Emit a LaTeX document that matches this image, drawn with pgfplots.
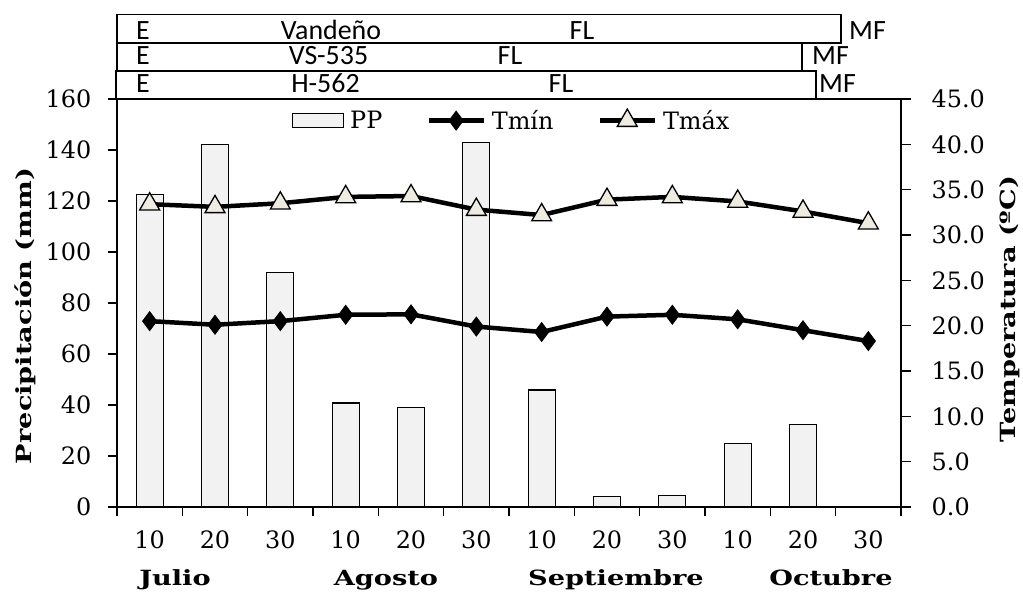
\documentclass[border=0pt]{standalone}
\usepackage{fontspec}
\setmainfont{DejaVu Serif}
\newfontfamily\calibrifont{Carlito}
\usepackage{graphicx}
\usepackage{pgfplots}
\pgfplotsset{compat=1.18}
\definecolor{barfill}{RGB}{242,242,242}
\definecolor{trifill}{RGB}{238,236,225}
\newcommand{\tickfont}{\fontsize{24}{28}\selectfont}
\newcommand{\labfont}{\fontsize{21}{25}\selectfont\bfseries}
\newcommand{\boxfont}{\calibrifont\fontsize{28}{32}\selectfont}
\pgfplotsset{
  /pgf/number format/assume math mode=true,
  mylineleg/.style={legend image code/.code={\draw[mark repeat=2, mark phase=2, ##1] plot coordinates {(0bp,0bp) (27.5bp,0bp) (55bp,0bp)};}},
  mybarleg/.style={legend image code/.code={\draw[fill=barfill, draw=black, line width=1.2bp] (0bp,-7bp) rectangle (51bp,7bp);}},
}

\begin{document}
\begin{tikzpicture}
\begin{axis}[
  scale only axis, width=784bp, height=408bp,
  xmin=-0.5, xmax=11.5, ymin=0, ymax=160,
  axis line style={line width=1.3bp},
  every tick/.style={black, line width=1.3bp},
  tick align=outside, major tick length=9.5bp,
  xtick={-0.5,0.5,...,11.5}, xticklabels={},
  extra x ticks={0,1,...,11},
  extra x tick labels={10,20,30,10,20,30,10,20,30,10,20,30},
  extra x tick style={major tick length=0pt},
  xtick pos=bottom, ytick pos=left,
  ytick={0,20,...,160},
  yticklabel={\tickfont\pgfmathprintnumber[assume math mode=true]{\tick}},
  xticklabel style={font=\tickfont, inner sep=0pt, anchor=north, yshift=-24bp},
  yticklabel style={font=\tickfont, inner sep=0pt, anchor=east, xshift=-16bp},
  clip=false,
]
\addplot[ybar, bar width=27bp, fill=barfill, draw=black, line width=1.2bp] coordinates {(0,122.5) (1,142.3) (2,92) (3,40.8) (4,39) (5,143) (6,45.9) (7,4.2) (8,4.5) (9,25) (10,32.3)};
\end{axis}
\begin{axis}[
  scale only axis, width=784bp, height=408bp,
  xmin=-0.5, xmax=11.5, ymin=0, ymax=45,
  hide x axis,
  axis y line*=right,
  axis line style={line width=1.3bp},
  every tick/.style={black, line width=1.3bp},
  tick align=outside, major tick length=9.5bp,
  ytick={0,5,...,45},
  yticklabel={\tickfont\pgfmathprintnumber[fixed, fixed zerofill, precision=1, assume math mode=true]{\tick}},
  yticklabel style={font=\tickfont, inner sep=0pt, anchor=west, xshift=21bp},
  clip=false,
  legend cell align=left,
  legend style={at={(axis description cs:0.2232,0.9485)}, anchor=west, draw=none, fill=none,
    legend columns=3, font=\tickfont, inner sep=0pt, outer sep=0pt, nodes={inner sep=0pt},
    /tikz/every even column/.append style={column sep=44bp},
    /tikz/every odd column/.append style={column sep=6bp}},
]
\addlegendimage{mybarleg}
\addlegendentry{PP}
\addplot[line width=4.5bp, mark=diamond*, mark size=9.5bp, mark options={fill=black, line width=0.8bp}, mylineleg]
  coordinates {(0,20.5) (1,20.1) (2,20.5) (3,21.2) (4,21.25) (5,19.9) (6,19.3) (7,21.0) (8,21.2) (9,20.7) (10,19.5) (11,18.3)};
\addlegendentry{Tmín}
\addplot[line width=4.5bp, mark=triangle*, mark size=11.5bp, mark options={fill=trifill, draw=black, line width=1.3bp}, mylineleg]
  coordinates {(0,33.4) (1,33.1) (2,33.5) (3,34.2) (4,34.3) (5,32.8) (6,32.2) (7,33.9) (8,34.2) (9,33.7) (10,32.6) (11,31.3)};
\addlegendentry{Tmáx}
\end{axis}
% axis titles
\node[rotate=90, anchor=center, inner sep=0pt] at (-92bp,191bp) {\labfont\scalebox{1.3}[1]{Precipitación (mm)}};
\node[rotate=90, anchor=center, inner sep=0pt] at (893bp,198bp) {\labfont\scalebox{1.3}[1]{Temperatura (ºC)}};
\node[anchor=base, inner sep=0pt] at (58bp,-78bp) {\labfont\scalebox{1.3}[1]{Julio}};
\node[anchor=base, inner sep=0pt] at (269bp,-78bp) {\labfont\scalebox{1.3}[1]{Agosto}};
\node[anchor=base, inner sep=0pt] at (499bp,-78bp) {\labfont\scalebox{1.3}[1]{Septiembre}};
\node[anchor=base, inner sep=0pt] at (714bp,-78bp) {\labfont\scalebox{1.3}[1]{Octubre}};
% phenology boxes
\draw[line width=1.3bp] (0bp,464bp) rectangle (724bp,492.3bp);
\draw[line width=1.3bp] (0bp,436bp) rectangle (685bp,464bp);
\draw[line width=1.3bp] (-1bp,408bp) rectangle (699bp,436bp);
\node[anchor=base, inner sep=0pt] at (26bp,467.4bp) {\boxfont E};
\node[anchor=base, inner sep=0pt] at (214bp,467.4bp) {\boxfont Vandeño};
\node[anchor=base, inner sep=0pt] at (465bp,467.4bp) {\boxfont FL};
\node[anchor=base west, inner sep=0pt] at (732bp,467.4bp) {\boxfont MF};
\node[anchor=base, inner sep=0pt] at (26bp,442.1bp) {\boxfont E};
\node[anchor=base, inner sep=0pt] at (211.5bp,442.1bp) {\boxfont VS-535};
\node[anchor=base, inner sep=0pt] at (393bp,442.1bp) {\boxfont FL};
\node[anchor=base west, inner sep=0pt] at (695bp,442.1bp) {\boxfont MF};
\node[anchor=base, inner sep=0pt] at (26bp,414bp) {\boxfont E};
\node[anchor=base, inner sep=0pt] at (208.5bp,414bp) {\boxfont H-562};
\node[anchor=base, inner sep=0pt] at (444bp,414bp) {\boxfont FL};
\node[anchor=base west, inner sep=0pt] at (702bp,414bp) {\boxfont MF};
\pgfresetboundingbox
\path[use as bounding box] (-117bp,-86bp) rectangle (906bp,507bp);
\end{tikzpicture}
\end{document}
